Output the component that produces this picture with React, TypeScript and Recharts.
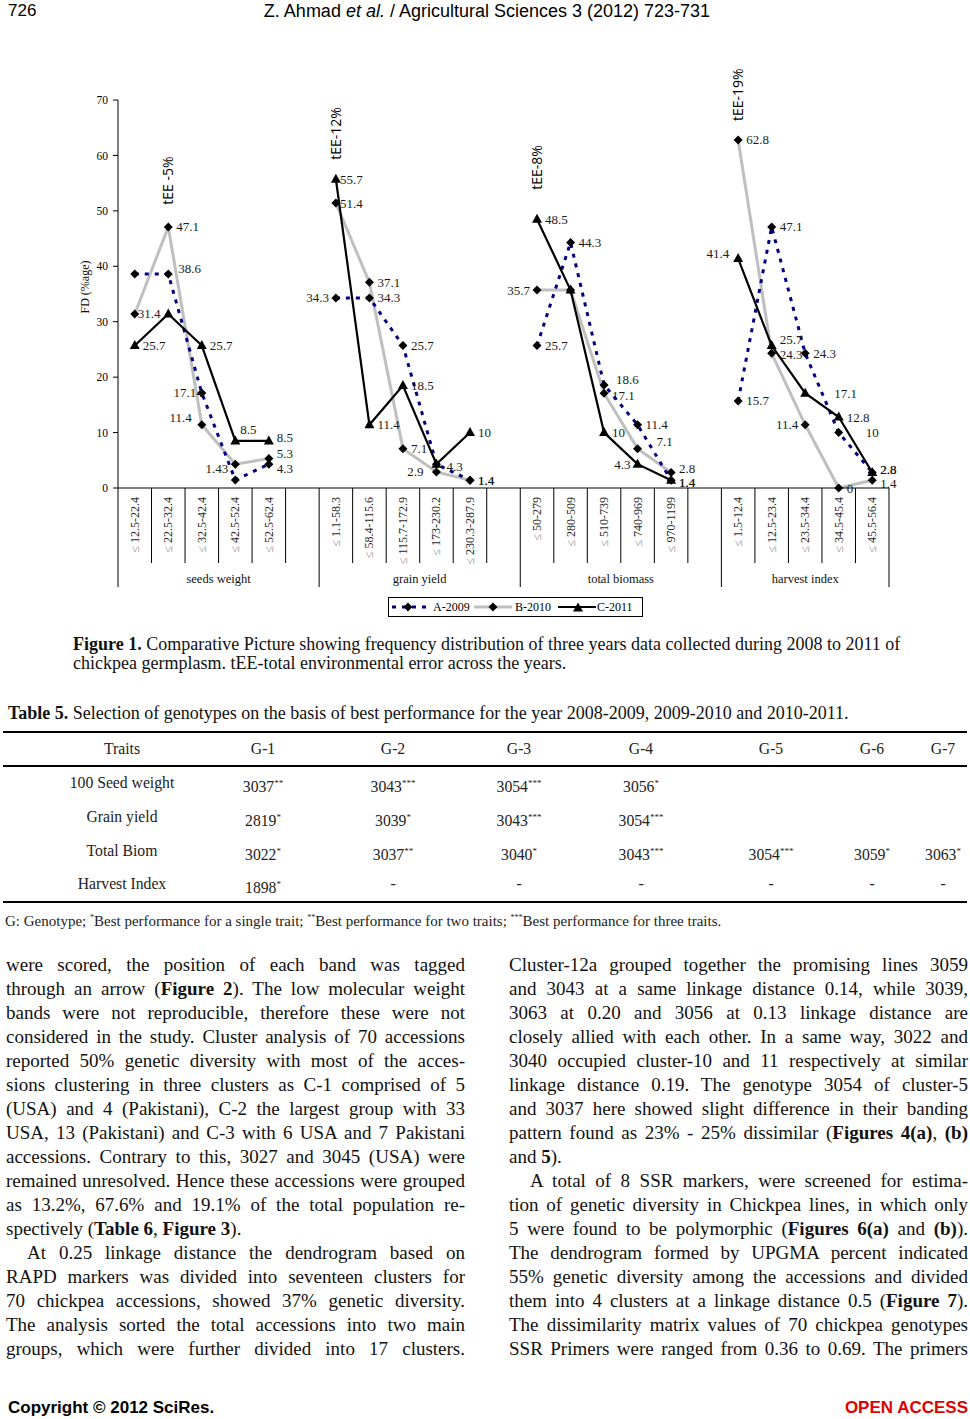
import React from 'react';
import { LineChart, Line, XAxis, YAxis, Legend, LabelList, ReferenceDot } from 'recharts';

const SERIF = "'Liberation Serif', 'Times New Roman', serif";
const NARROW = "'Liberation Sans Narrow', 'Liberation Sans', Arial, sans-serif";
const SANS = "'Open Sans', 'Liberation Sans', sans-serif";

// FD classes of the four traits, null = spacer column between traits
const classes = [
  '12.5-22.4', '22.5-32.4', '32.5-42.4', '42.5-52.4', '52.5-62.4', null,
  '1.1-58.3', '58.4-115.6', '115.7-172.9', '173-230.2', '230.3-287.9', null,
  '50-279', '280-509', '510-739', '740-969', '970-1199', null,
  '1.5-12.4', '12.5-23.4', '23.5-34.4', '34.5-45.4', '45.5-56.4',
];
const traits = ['seeds weight', 'grain yield', 'total biomass', 'harvest index'];
const traitFirst = [0, 6, 12, 18];
const traitCols = [6, 6, 6, 5];

const a2009 = [38.6, 38.6, 17.14, 1.43, 4.3, null, 34.3, 34.3, 25.7, 4.3, 1.4, null, 25.7, 44.3, 18.6, 11.4, 1.4, null, 15.7, 47.1, 24.3, 10, 2.8];
const b2010 = [31.4, 47.1, 11.4, 4.3, 5.3, null, 51.4, 37.1, 7.1, 2.9, 1.4, null, 35.7, 35.7, 17.1, 7.1, 2.8, null, 62.8, 24.3, 11.4, 0, 1.4];
const c2011 = [25.7, 31.4, 25.7, 8.5, 8.5, null, 55.7, 11.4, 18.5, 4.3, 10, null, 48.5, 35.7, 10, 4.3, 1.4, null, 41.4, 25.7, 17.1, 12.8, 2.8];
const seriesNames = ['A-2009', 'B-2010', 'C-2011'];

// total environmental error notes (class index, level of text start)
const teeText = ['tEE -5%', 'tEE-12%', 'tEE-8%', 'tEE-19%'];
const teeClass = [1, 6, 12, 18];
const teeLevel = [51.1, 59.2, 53.8, 66.2];

const yTicks = [0, 10, 20, 30, 40, 50, 60, 70];

const rows = classes.map((cls, i) => ({ i, cls, a: a2009[i], b: b2010[i], c: c2011[i] }));

const W = 970;
const H = 580;
const M = { top: 50, right: 81, left: 58, bottom: 10 };
const YW = 60;
const BAND = (W - M.left - M.right - YW) / classes.length;

// where the value labels sit (hidden ones overlap another series)
const labelRules: Record<string, { hide: number[]; left: number[]; nudge: Record<number, number[]> }> = {
  a: { hide: [0], left: [2, 3, 6], nudge: { 1: [2, -6], 2: [8, 0], 3: [0, -12], 4: [0, 4], 9: [2, 2], 14: [4, -5], 16: [0, 2], 21: [19, 0], 22: [0, -3] } },
  b: { hide: [3, 13], left: [2, 9, 12, 20], nudge: { 0: [-5, 0], 2: [-3, -7], 4: [0, -5], 6: [-4, 0], 9: [-6, 0], 14: [0, 2], 15: [11, -7], 16: [0, -4], 19: [0, 1], 22: [0, 3] } },
  c: { hide: [1, 9, 13], left: [15, 18], nudge: { 3: [-3, -11], 4: [0, -3], 6: [-4, 0], 16: [0, 2], 18: [-2, -5], 19: [0, -6], 20: [21, 0], 22: [0, -3] } },
};

const makeLabel = (key: string) => (p: any) => {
  const vb = p.viewBox || {};
  const x = p.x ?? vb.x;
  const y = p.y ?? vb.y;
  const { value, index } = p;
  if (value == null || x == null || y == null) return null;
  const rule = labelRules[key];
  if (rule.hide.includes(index)) return null;
  const left = rule.left.includes(index);
  const [dx, dy] = rule.nudge[index] || [0, 0];
  return (
    <text x={x + (left ? -7 : 8) + dx} y={y + dy} textAnchor={left ? 'end' : 'start'}
      dominantBaseline="central" fontSize={13} fontFamily={SERIF} fill="#1a1a1a">
      {value}
    </text>
  );
};

const Diamond = (p: any) => {
  const { cx, cy } = p;
  if (cx == null || cy == null || Number.isNaN(cy)) return <g />;
  return <path d={`M${cx} ${cy - 4.5}L${cx + 4.5} ${cy}L${cx} ${cy + 4.5}L${cx - 4.5} ${cy}Z`} fill="#000" />;
};

const Triangle = (p: any) => {
  const { cx, cy } = p;
  if (cx == null || cy == null || Number.isNaN(cy)) return <g />;
  return <path d={`M${cx} ${cy - 5.5}L${cx + 5} ${cy + 3.5}L${cx - 5} ${cy + 3.5}Z`} fill="#000" />;
};

const ClassTick = (p: any) => {
  const { x, y, payload } = p;
  const i = Number(payload.value);
  const label = classes[i];
  const long = label === null || i === classes.length - 1;
  const g = traitFirst.indexOf(i);
  return (
    <g>
      {label && (
        <text transform={`translate(${x},${y + 9}) rotate(-90)`} textAnchor="end" dominantBaseline="central"
          fontSize={12} fontFamily={SERIF} fill="#2a2a2a">
          <tspan fill="#888">≤</tspan> {label}
        </text>
      )}
      <line x1={x + BAND / 2} x2={x + BAND / 2} y1={y} y2={y + (long ? 99 : 75)} stroke="#000" />
      {i === 0 && <line x1={x - BAND / 2} x2={x - BAND / 2} y1={y} y2={y + 99} stroke="#000" />}
      {g >= 0 && (
        <text x={x - BAND / 2 + (traitCols[g] * BAND) / 2} y={y + 91} textAnchor="middle" dominantBaseline="central"
          fontSize={12.5} fontFamily={SERIF} fill="#111">
          {traits[g]}
        </text>
      )}
    </g>
  );
};

const LegendBox = () => (
  <div style={{ position: 'relative', width: W, height: 26 }}>
    <svg style={{ position: 'absolute', left: 388, top: 3 }} width={255} height={20}>
      <rect x={0.5} y={0.5} width={254} height={19} fill="#fff" stroke="#000" />
      <line x1={4} x2={38} y1={10} y2={10} stroke="#000080" strokeWidth={3} strokeDasharray="4 6" />
      <Diamond cx={20} cy={10} />
      <text x={45} y={10} dominantBaseline="central" fontSize={12} fontFamily={SERIF}>{seriesNames[0]}</text>
      <line x1={86} x2={124} y1={10} y2={10} stroke="#bfbfbf" strokeWidth={3} />
      <Diamond cx={105} cy={10} />
      <text x={127} y={10} dominantBaseline="central" fontSize={12} fontFamily={SERIF}>{seriesNames[1]}</text>
      <line x1={170} x2={208} y1={10} y2={10} stroke="#000" strokeWidth={2} />
      <Triangle cx={190} cy={11} />
      <text x={209} y={10} dominantBaseline="central" fontSize={12} fontFamily={SERIF}>{seriesNames[2]}</text>
    </svg>
  </div>
);

const FDChart = () => (
  <LineChart width={W} height={H} data={rows} margin={M}>
    <XAxis dataKey="i" type="category" scale="band" interval={0} tick={<ClassTick />} tickLine={false} tickSize={0}
      tickMargin={0} height={106} axisLine={{ stroke: '#000' }} />
    <YAxis domain={[0, 70]} ticks={yTicks} width={YW} tickSize={5} tickMargin={5} axisLine={{ stroke: '#000' }}
      tickLine={{ stroke: '#000' }} tick={{ fontSize: 11.5, fontFamily: SERIF, fill: '#000' }}
      label={{
        content: (p: any) => {
          const vb = p.viewBox || { x: 58, y: 50, height: 388 };
          const cx = vb.x + 27;
          const cy = vb.y + vb.height / 2 - 7;
          return (
            <text transform={`translate(${cx},${cy}) rotate(-90)`} textAnchor="middle" dominantBaseline="central"
              fontSize={12} fontFamily={SERIF} fill="#111">FD (%age)</text>
          );
        },
      }} />
    <Legend verticalAlign="bottom" content={<LegendBox />} wrapperStyle={{ left: 0, width: W }} />
    <Line dataKey="b" name={seriesNames[1]} stroke="#bfbfbf" strokeWidth={3} dot={Diamond} activeDot={false}
      isAnimationActive={false}>
      <LabelList dataKey="b" content={makeLabel('b')} />
    </Line>
    <Line dataKey="a" name={seriesNames[0]} stroke="#000080" strokeWidth={3} strokeDasharray="4 6" dot={Diamond}
      activeDot={false} isAnimationActive={false}>
      <LabelList dataKey="a" content={makeLabel('a')} />
    </Line>
    <Line dataKey="c" name={seriesNames[2]} stroke="#000" strokeWidth={2.2} dot={Triangle} activeDot={false}
      isAnimationActive={false}>
      <LabelList dataKey="c" content={makeLabel('c')} />
    </Line>
    {teeText.map((t, k) => (
      <ReferenceDot key={t} x={teeClass[k]} y={teeLevel[k]} r={0} ifOverflow="visible"
        shape={(p: any) => (
          <text transform={`translate(${p.cx + 5},${p.cy}) rotate(-90)`} fontSize={14} fontFamily={SANS} fill="#000">
            {t}
          </text>
        )} />
    ))}
  </LineChart>
);

const tableHead = ['Traits', 'G-1', 'G-2', 'G-3', 'G-4', 'G-5', 'G-6', 'G-7'];
const tableRows = [
  ['100 Seed weight', '3037|**', '3043|***', '3054|***', '3056|*', '', '', ''],
  ['Grain yield', '2819|*', '3039|*', '3043|***', '3054|***', '', '', ''],
  ['Total Biom', '3022|*', '3037|**', '3040|*', '3043|***', '3054|***', '3059|*', '3063|*'],
  ['Harvest Index', '1898|*', '-', '-', '-', '-', '-', '-'],
];
const colX = [122, 263, 393, 519, 641, 771, 872, 943];
const rowY = [783, 817, 851, 884];

const leftLines = [
  'were scored, the position of each band was tagged',
  'through an arrow (**Figure 2**). The low molecular weight',
  'bands were not reproducible, therefore these were not',
  'considered in the study. Cluster analysis of 70 accessions',
  'reported 50% genetic diversity with most of the acces-',
  'sions clustering in three clusters as C-1 comprised of 5',
  '(USA) and 4 (Pakistani), C-2 the largest group with 33',
  'USA, 13 (Pakistani) and C-3 with 6 USA and 7 Pakistani',
  'accessions. Contrary to this, 3027 and 3045 (USA) were',
  'remained unresolved. Hence these accessions were grouped',
  'as 13.2%, 67.6% and 19.1% of the total population re-',
  '$spectively (**Table 6**, **Figure 3**).',
  '>At 0.25 linkage distance the dendrogram based on',
  'RAPD markers was divided into seventeen clusters for',
  '70 chickpea accessions, showed 37% genetic diversity.',
  'The analysis sorted the total accessions into two main',
  'groups, which were further divided into 17 clusters.',
];
const rightLines = [
  'Cluster-12a grouped together the promising lines 3059',
  'and 3043 at a same linkage distance 0.14, while 3039,',
  '3063 at 0.20 and 3056 at 0.13 linkage distance are',
  'closely allied with each other. In a same way, 3022 and',
  '3040 occupied cluster-10 and 11 respectively at similar',
  'linkage distance 0.19. The genotype 3054 of cluster-5',
  'and 3037 here showed slight difference in their banding',
  'pattern found as 23% - 25% dissimilar (**Figures 4(a)**, **(b)**',
  '$and **5**).',
  '>A total of 8 SSR markers, were screened for estima-',
  'tion of genetic diversity in Chickpea lines, in which only',
  '5 were found to be polymorphic (**Figures 6(a)** and **(b)**).',
  'The dendrogram formed by UPGMA percent indicated',
  '55% genetic diversity among the accessions and divided',
  'them into 4 clusters at a linkage distance 0.5 (**Figure 7**).',
  'The dissimilarity matrix values of 70 chickpea genotypes',
  'SSR Primers were ranged from 0.36 to 0.69. The primers',
];

const rich = (s: string) => s.split('**').map((part, k) => (k % 2 ? <b key={k}>{part}</b> : <span key={k}>{part}</span>));

const Column = ({ lines, left }: { lines: string[]; left: number }) => (
  <>
    {lines.map((raw, k) => {
      const last = raw.startsWith('$');
      const indent = raw.startsWith('>');
      const s = last || indent ? raw.slice(1) : raw;
      return (
        <div key={k} style={{
          position: 'absolute', left: left + (indent ? 21 : 0), top: 953 + k * 24, width: 459 - (indent ? 21 : 0),
          height: 24, lineHeight: '24px', fontSize: 19, fontFamily: SERIF, color: '#111',
          textAlign: last ? 'left' : 'justify', textAlignLast: last ? 'left' : 'justify',
        }}>
          {rich(s)}
        </div>
      );
    })}
  </>
);

const cell = (v: string) => {
  const [n, star] = v.split('|');
  return (
    <>
      {n}
      {star && <sup style={{ fontSize: 9 }}>{star}</sup>}
    </>
  );
};

const rule = (top: number) => (
  <div style={{ position: 'absolute', left: 3, width: 964, top, height: 1.5, background: '#000' }} />
);

export default function App() {
  return (
    <div style={{ position: 'absolute', left: 0, top: 0, width: 970, height: 1419, background: '#fff', overflow: 'hidden', fontFamily: SERIF }}>
      <div style={{ position: 'absolute', left: 8, top: 1, fontFamily: NARROW, fontSize: 17, lineHeight: '20px' }}>726</div>
      <div style={{ position: 'absolute', left: 0, width: 974, top: 1, textAlign: 'center', fontFamily: NARROW, fontSize: 18, lineHeight: '20px' }}>
        Z. Ahmad <i>et al.</i> / Agricultural Sciences 3 (2012) 723-731
      </div>

      <div style={{ position: 'absolute', left: 0, top: 50 }}>
        <FDChart />
      </div>

      <div style={{ position: 'absolute', left: 73, top: 635, fontSize: 18, lineHeight: '19px', color: '#111', whiteSpace: 'nowrap' }}>
        <div><b>Figure 1.</b> Comparative Picture showing frequency distribution of three years data collected during 2008 to 2011 of</div>
        <div>chickpea germplasm. tEE-total environmental error across the years.</div>
      </div>

      <div style={{ position: 'absolute', left: 8, top: 703, fontSize: 18, lineHeight: '20px', color: '#111', whiteSpace: 'nowrap' }}>
        <b>Table 5.</b> Selection of genotypes on the basis of best performance for the year 2008-2009, 2009-2010 and 2010-2011.
      </div>

      {rule(731)}
      {tableHead.map((h, k) => (
        <div key={h} style={{ position: 'absolute', left: colX[k] - 80, width: 160, top: 740, textAlign: 'center', fontSize: 15.7, lineHeight: '18px', color: '#222' }}>{h}</div>
      ))}
      {rule(765)}
      {tableRows.map((r, ri) =>
        r.map((v, k) => (
          <div key={`${ri}-${k}`} style={{ position: 'absolute', left: colX[k] - 80, width: 160, top: rowY[ri] - 9, textAlign: 'center', fontSize: 15.7, lineHeight: '18px', color: '#222' }}>
            {cell(v)}
          </div>
        )),
      )}
      {rule(901)}
      <div style={{ position: 'absolute', left: 5, top: 909, fontSize: 15, lineHeight: '17px', color: '#222', whiteSpace: 'nowrap' }}>
        G: Genotype; <sup style={{ fontSize: 8 }}>*</sup>Best performance for a single trait; <sup style={{ fontSize: 8 }}>**</sup>Best performance for two traits; <sup style={{ fontSize: 8 }}>***</sup>Best performance for three traits.
      </div>

      <Column lines={leftLines} left={6} />
      <Column lines={rightLines} left={509} />

      <div style={{ position: 'absolute', left: 8, top: 1398, fontFamily: NARROW, fontWeight: 'bold', fontSize: 17, lineHeight: '20px' }}>Copyright © 2012 SciRes.</div>
      <div style={{ position: 'absolute', right: 2, top: 1398, fontFamily: NARROW, fontWeight: 'bold', fontSize: 17, lineHeight: '20px', color: '#e00000' }}>OPEN ACCESS</div>
    </div>
  );
}
